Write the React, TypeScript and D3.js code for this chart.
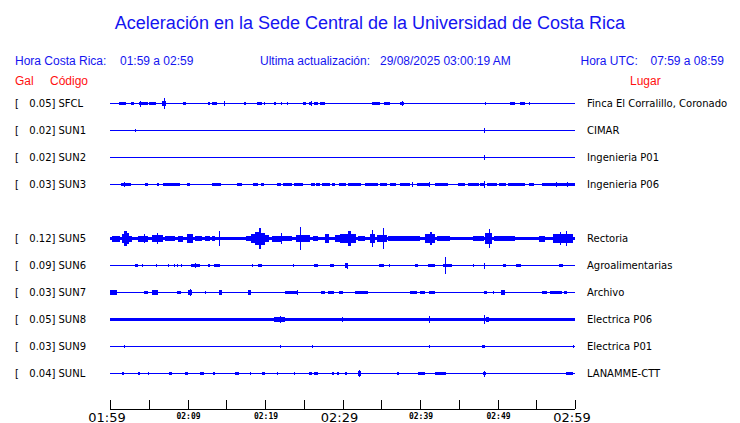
import React from "react";
import * as d3 from "d3";

type Ev = [number, number, number]; // [minute from start, duration (min), relative amplitude %]

const title = "Aceleración en la Sede Central de la Universidad de Costa Rica";
const stations = ["SFCL", "SUN1", "SUN2", "SUN3", "SUN5", "SUN6", "SUN7", "SUN8", "SUN9", "SUNL"];
const peaksGal = ["0.05", "0.02", "0.02", "0.03", "0.12", "0.09", "0.03", "0.05", "0.03", "0.04"];
const places = [
  "Finca El Corralillo, Coronado", "CIMAR", "Ingenieria P01", "Ingenieria P06", "Rectoria",
  "Agroalimentarias", "Archivo", "Electrica P06", "Electrica P01", "LANAMME-CTT",
];
const rowSlots = [0, 1, 2, 3, 5, 6, 7, 8, 9, 10];
const noiseLevel = [0, 0, 0, 0, 13, 0, 0, 11, 0, 0];

const tickMinutes = [0, 5, 10, 15, 20, 25, 30, 35, 40, 45, 50, 55, 60];
const labelMinutes = [0, 10, 20, 30, 40, 50, 60];
const labelTexts = ["01:59", "02:09", "02:19", "02:29", "02:39", "02:49", "02:59"];
const labelMajor = [true, false, false, true, false, false, true];

const sfcl: Ev[] = [
  [0.1, 0.05, 8], [0.4, 0.05, 8], [0.65, 0.05, 8], [1.15, 0.85, 12], [2.2, 0.1, 8], [2.7, 0.35, 12],
  [3.5, 0.15, 8], [3.8, 1.05, 12], [3.9, 0.1, 25], [5.05, 0.85, 12], [6.75, 0.45, 18], [7.0, 0.1, 45],
  [7.5, 0.1, 8], [8.6, 0.1, 8], [9.45, 0.3, 12], [10.3, 0.1, 8], [10.65, 0.1, 8], [11.7, 0.1, 8],
  [12.6, 0.35, 10], [13.2, 0.65, 12], [14.75, 0.15, 20], [17.35, 0.2, 10], [19.0, 0.65, 12],
  [19.85, 0.15, 10], [20.5, 0.1, 8], [21.1, 0.3, 10], [21.7, 0.1, 8], [22.05, 0.2, 10], [22.8, 0.15, 10],
  [23.45, 0.1, 8], [24.2, 0.1, 8], [24.95, 0.3, 10], [25.7, 0.4, 12], [25.9, 0.1, 22], [26.35, 0.5, 10],
  [27.1, 0.6, 10], [28.1, 0.15, 8], [29.85, 0.1, 8], [31.6, 0.1, 8], [32.05, 0.6, 8], [33.75, 1.1, 12],
  [35.3, 0.85, 10], [37.4, 0.5, 10], [37.7, 0.1, 20], [39.0, 0.1, 8], [39.8, 0.1, 8], [41.2, 0.1, 8],
  [43.35, 0.1, 8], [47.3, 0.4, 8], [48.4, 0.1, 10], [49.9, 0.1, 8], [51.6, 0.6, 12], [52.9, 0.65, 12],
  [54.05, 0.15, 10], [55.4, 0.1, 8], [57.2, 0.1, 8],
];
const sun1: Ev[] = [[3.27, 0.1, 14], [48.3, 0.1, 22], [57.1, 0.1, 6]];
const sun2: Ev[] = [[48.3, 0.15, 18]];
const sun3: Ev[] = [
  [1.0, 0.25, 8], [1.4, 1.3, 12], [1.8, 0.1, 18], [2.8, 0.1, 8], [3.85, 0.3, 8], [4.5, 0.45, 10],
  [5.6, 0.1, 8], [6.0, 0.35, 10], [6.9, 2.1, 12], [9.25, 0.1, 8], [9.9, 0.45, 12], [11.2, 0.2, 8],
  [11.8, 0.25, 8], [12.6, 0.1, 8], [13.2, 1.1, 12], [14.85, 0.1, 8], [15.5, 0.1, 8], [16.4, 0.6, 10],
  [17.4, 0.35, 8], [18.5, 0.55, 12], [19.45, 0.4, 10], [20.4, 0.1, 8], [21.1, 0.3, 8], [21.6, 0.5, 10],
  [22.35, 1.1, 12], [23.7, 1.25, 12], [25.95, 0.45, 10], [26.6, 0.5, 10], [27.3, 1.05, 12],
  [28.6, 0.45, 10], [29.5, 0.85, 12], [29.68, 0.75, 10], [30.75, 1.7, 12], [32.9, 1.7, 12],
  [34.85, 0.85, 12], [36.1, 0.85, 10], [37.4, 1.3, 12], [39.0, 0.1, 18], [39.55, 1.7, 12],
  [41.2, 0.1, 18], [41.9, 1.7, 12], [44.3, 0.1, 8], [44.95, 0.85, 10], [46.25, 1.3, 10],
  [47.75, 0.45, 10], [48.3, 0.1, 30], [48.6, 1.3, 12], [50.2, 0.95, 12], [51.4, 2.15, 12],
  [54.0, 0.65, 10], [55.05, 0.1, 8], [55.7, 4.3, 13], [57.5, 0.1, 18], [59.0, 0.1, 18],
];
const sun5: Ev[] = [
  [0.2, 1.1, 25], [1.5, 0.3, 35], [1.8, 0.4, 60], [2.2, 0.3, 45], [2.5, 0.3, 25], [3.65, 1.3, 25],
  [4.4, 0.1, 35], [5.4, 1.4, 30], [6.0, 0.1, 42], [7.1, 1.3, 20], [8.8, 0.65, 25], [9.9, 0.75, 35],
  [11.0, 0.85, 20], [12.25, 0.65, 20], [13.1, 0.45, 18], [14.0, 0.1, 62], [17.6, 0.65, 18],
  [18.2, 0.5, 35], [18.7, 0.5, 55], [19.2, 0.3, 90], [19.5, 0.5, 50], [20.0, 0.5, 30],
  [20.9, 1.1, 25], [22.0, 0.1, 45], [22.2, 1.3, 22], [24.0, 1.8, 30], [24.5, 0.1, 92],
  [25.2, 0.6, 30], [26.2, 0.65, 20], [27.8, 0.45, 35], [29.0, 1.3, 30], [29.68, 2.1, 35],
  [30.7, 0.4, 60], [32.0, 0.9, 18], [33.6, 0.65, 40], [33.85, 0.1, 68], [34.4, 1.3, 30],
  [35.27, 0.1, 90], [35.9, 4.1, 20], [40.65, 1.3, 35], [41.3, 0.2, 55], [42.15, 1.7, 20],
  [44.3, 2.1, 15], [46.9, 1.3, 22], [48.4, 0.85, 45], [48.9, 0.1, 80], [49.5, 2.8, 22],
  [52.5, 2.6, 15], [55.3, 0.85, 25], [56.6, 0.45, 15], [57.2, 2.6, 35], [58.1, 0.1, 55],
  [58.9, 0.1, 60],
];
const sun6: Ev[] = [
  [3.2, 0.4, 10], [4.1, 0.1, 10], [5.9, 0.1, 10], [7.5, 0.1, 10], [8.2, 0.1, 10], [8.7, 0.1, 10],
  [9.2, 0.1, 12], [10.45, 1.15, 12], [11.0, 0.1, 20], [12.25, 0.1, 8], [12.6, 0.35, 10],
  [13.45, 0.7, 12], [15.7, 0.1, 8], [16.8, 0.1, 8], [18.35, 0.1, 10], [19.05, 0.5, 14],
  [22.05, 0.1, 8], [23.65, 0.1, 12], [26.35, 0.45, 12], [28.4, 0.45, 12], [29.7, 0.1, 8],
  [30.3, 0.45, 18], [30.6, 0.1, 25], [31.3, 0.1, 8], [32.05, 0.1, 8], [33.3, 0.1, 8], [34.75, 0.55, 12],
  [36.05, 0.1, 10], [37.8, 0.1, 8], [39.35, 0.45, 12], [41.05, 0.85, 14], [43.0, 1.1, 14],
  [43.27, 0.1, 72], [46.8, 0.1, 10], [48.3, 0.1, 25], [49.7, 0.1, 8], [50.75, 0.3, 12],
  [52.4, 0.6, 12], [55.05, 0.1, 8], [56.45, 0.1, 8], [57.0, 0.1, 8], [57.95, 0.45, 12],
];
const sun7: Ev[] = [
  [0.0, 0.85, 20], [2.9, 0.1, 8], [4.45, 0.5, 12], [5.4, 0.75, 18], [8.6, 0.55, 12], [10.1, 0.5, 20],
  [10.3, 0.1, 28], [12.2, 0.1, 10], [14.0, 0.5, 18], [15.2, 0.1, 8], [15.7, 0.1, 8], [16.35, 0.1, 8],
  [17.75, 0.5, 18], [19.3, 0.1, 8], [22.6, 1.7, 14], [24.1, 0.1, 18], [24.95, 0.1, 8], [25.4, 0.1, 8],
  [27.2, 0.6, 12], [28.1, 0.75, 12], [29.5, 0.6, 12], [31.6, 1.7, 12], [33.75, 0.45, 8],
  [34.4, 0.1, 8], [35.6, 0.1, 8], [37.85, 0.45, 8], [38.7, 0.85, 10], [40.0, 0.65, 10],
  [41.2, 0.75, 12], [44.65, 0.1, 8], [46.8, 0.45, 8], [48.2, 0.45, 14], [49.46, 0.1, 10],
  [50.5, 0.45, 18], [54.1, 0.1, 8], [55.7, 0.65, 12], [56.8, 1.5, 14], [58.6, 0.35, 10], [59.8, 0.1, 8],
];
const sun8: Ev[] = [
  [0.0, 0.85, 14], [4.95, 0.1, 14], [21.1, 1.5, 18], [21.9, 0.1, 30], [23.65, 0.1, 14],
  [25.15, 0.1, 12], [26.2, 0.1, 12], [27.3, 0.1, 12], [28.4, 0.1, 12], [29.25, 1.05, 16],
  [29.9, 0.1, 22], [29.68, 2.6, 16], [33.1, 0.85, 16], [35.9, 0.85, 14], [37.85, 1.9, 16],
  [41.2, 0.1, 30], [42.4, 0.45, 16], [43.65, 0.25, 14], [45.15, 0.85, 16], [48.3, 0.1, 40],
  [48.55, 0.3, 18], [53.1, 0.1, 14], [55.5, 0.1, 12],
];
const sun9: Ev[] = [
  [1.8, 0.1, 12], [21.9, 0.1, 10], [26.1, 0.1, 10], [35.5, 0.1, 8], [41.2, 0.1, 10],
  [48.0, 0.45, 12], [48.3, 0.1, 16], [59.8, 0.1, 10],
];
const sunl: Ev[] = [
  [1.5, 0.35, 10], [3.2, 0.1, 8], [3.55, 0.35, 10], [4.85, 0.1, 10], [7.3, 0.1, 8], [7.6, 0.35, 12],
  [8.6, 0.1, 8], [9.7, 0.3, 10], [11.6, 0.55, 12], [13.3, 0.3, 12], [14.2, 0.1, 8], [16.1, 0.5, 12],
  [18.05, 0.2, 10], [18.9, 0.1, 8], [19.55, 0.45, 12], [20.4, 0.1, 8], [21.5, 0.1, 10],
  [23.8, 0.1, 10], [24.5, 0.1, 8], [25.7, 0.35, 10], [26.35, 0.5, 12], [28.6, 0.35, 12],
  [29.25, 0.25, 10], [30.3, 0.3, 12], [32.0, 0.45, 18], [32.15, 0.1, 32], [32.9, 0.1, 8],
  [34.4, 0.1, 8], [36.15, 0.1, 8], [37.0, 0.25, 10], [39.05, 0.1, 8], [39.8, 0.85, 12],
  [40.95, 0.1, 8], [41.9, 1.5, 12], [45.95, 0.3, 8], [48.1, 0.4, 14], [48.3, 0.1, 25],
  [50.45, 0.1, 8], [56.0, 0.1, 8], [56.7, 0.1, 8], [58.3, 0.1, 8], [58.9, 0.85, 12],
];
const events: Ev[][] = [sfcl, sun1, sun2, sun3, sun5, sun6, sun7, sun8, sun9, sunl];

const W = 740;
const H = 423;
const BLUE = "#0000ff";
const TEXT_BLUE = "#1414f0";
const RED = "#ff1010";
const sans = "'Liberation Sans', Arial, sans-serif";
const dv = "'DejaVu Sans', sans-serif";

export default function App() {
  const x = d3.scaleLinear().domain([0, 60]).range([110, 575]);
  const row = d3.scaleLinear().domain([0, 10]).range([103.5, 373.5]);
  const amp = d3.scaleLinear().domain([0, 100]).range([0, 12]);
  const axisY = 409;

  return (
    <svg width={W} height={H} style={{ position: "absolute", left: 0, top: 0, background: "#fff" }}>
      <rect x={0} y={0} width={W} height={H} fill="#fff" />
      <text x={370} y={28.5} textAnchor="middle" fill={TEXT_BLUE} fontFamily={sans} fontSize={18}>
        {title}
      </text>
      <g fontFamily={sans} fontSize={12} fill={TEXT_BLUE}>
        <text x={15} y={64.5}>Hora Costa Rica:</text>
        <text x={120} y={64.5}>01:59 a 02:59</text>
        <text x={260} y={64.5}>Ultima actualización:</text>
        <text x={380} y={64.5}>29/08/2025 03:00:19 AM</text>
        <text x={580.5} y={64.5}>Hora UTC:</text>
        <text x={650.5} y={64.5}>07:59 a 08:59</text>
      </g>
      <g fontFamily={sans} fontSize={12} fill={RED}>
        <text x={15} y={84.5}>Gal</text>
        <text x={50} y={84.5}>Código</text>
        <text x={630} y={84.5}>Lugar</text>
      </g>
      {stations.map((s, i) => {
        const cy = row(rowSlots[i]);
        const nz = amp(noiseLevel[i]);
        const band = Math.max(1, 2 * nz);
        return (
          <g key={s}>
            <g fontFamily={dv} fontSize={10} fill="#000">
              <text x={15} y={cy + 3.8}>[</text>
              <text x={55.5} y={cy + 3.8} textAnchor="end">{peaksGal[i] + "]"}</text>
              <text x={58.5} y={cy + 3.8}>{s}</text>
              <text x={587} y={cy + 3.8}>{places[i]}</text>
            </g>
            <g fill={BLUE} shapeRendering="crispEdges">
              <rect x={x(0)} y={cy - band / 2} width={x(60) - x(0)} height={band} />
              {events[i].map((e, j) => {
                const x0 = x(e[0]);
                const w = Math.max(1, x(Math.min(60, e[0] + e[1])) - x0);
                const a = Math.max(band / 2, amp(e[2]));
                return <rect key={j} x={x0} y={cy - a} width={w} height={2 * a} />;
              })}
            </g>
          </g>
        );
      })}
      <g shapeRendering="crispEdges" stroke="#000">
        <line x1={x(0)} x2={x(60)} y1={axisY + 0.5} y2={axisY + 0.5} />
        {tickMinutes.map((m) => (
          <line key={m} x1={Math.round(x(m)) + 0.5} x2={Math.round(x(m)) + 0.5} y1={axisY - 9} y2={axisY} />
        ))}
      </g>
      {labelMinutes.map((m, i) =>
        labelMajor[i] ? (
          <text key={m} x={x(m) - 3} y={421.5} textAnchor="middle" fontFamily={dv} fontSize={13} fill="#000">
            {labelTexts[i]}
          </text>
        ) : (
          <text key={m} x={x(m) + 1} y={419} textAnchor="middle" fontFamily="'DejaVu Sans Mono', monospace"
            fontWeight="bold" fontSize={8} fill="#000">
            {labelTexts[i]}
          </text>
        )
      )}
    </svg>
  );
}
